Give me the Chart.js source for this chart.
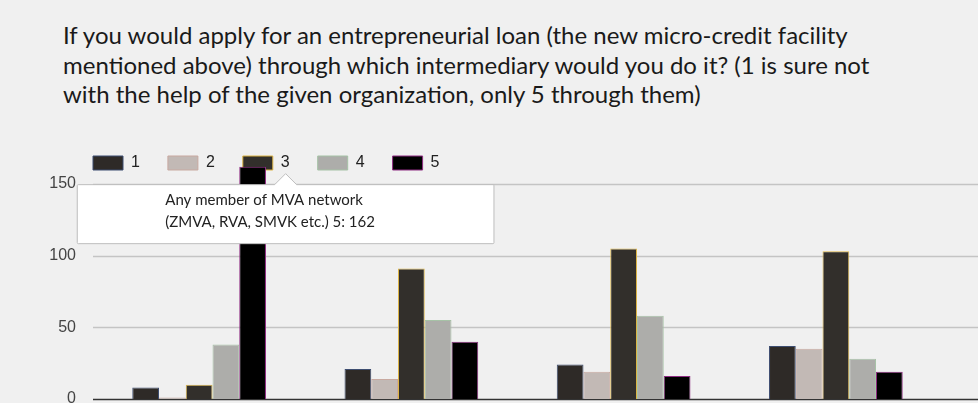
<!DOCTYPE html>
<html lang="en">
<head>
    <meta charset="UTF-8">
    <title>Entrepreneurial loan intermediary</title>
    <script src="https://cdn.jsdelivr.net/npm/chart.js"></script>
    <style>
        body {
            margin: 0;
            background: #f0f0f0;
            width: 978px;
            height: 403px;
            overflow: hidden;
            position: relative;
        }
        #title {
            position: absolute;
            left: 63px;
            top: 20px;
            font-family: Lato, "Open Sans", sans-serif;
            font-size: 24px;
            line-height: 29.5px;
            color: #1a1a1a;
            white-space: nowrap;
        }
        #chart {
            position: absolute;
            left: 0;
            top: 0;
        }
    </style>
</head>
<body>
    <div id="title">
        If you would apply for an entrepreneurial loan (the new micro-credit facility<br>
        mentioned above) through which intermediary would you do it? (1 is sure not<br>
        with the help of the given organization, only 5 through them)
    </div>
    <canvas id="chart" width="978" height="403"></canvas>

    <script>
        // intermediaries (only the first name is readable in the picture)
        const categories = [
            ['Any member of MVA network', '(ZMVA, RVA, SMVK etc.)'],
            '', '', ''
        ];
        const seriesNames = ['1', '2', '3', '4', '5'];
        const answers1 = [8, 21, 24, 37];
        const answers2 = [1, 14, 19, 35];
        const answers3 = [10, 91, 105, 103];
        const answers4 = [38, 55, 58, 28];
        const answers5 = [162, 40, 16, 19];
        const yTicks = [0, 50, 100, 150];

        const fills = ['#2e2a27', '#c2b9b5', '#322f2b', '#adadaa', '#000000'];
        const edges = ['#3d4d70', '#c8a9a0', '#dcb445', '#a6c2a6', '#8e2c82'];
        const allValues = [answers1, answers2, answers3, answers4, answers5];

        // horizontal lines run across the whole picture, past the last group
        const wideGrid = {
            id: 'wideGrid',
            beforeDraw(chart) {
                // legend starts right above the plot, not at the canvas edge
                const lg = chart.legend;
                lg.left = chart.chartArea.left - lg.options.labels.padding;
            },
            beforeDatasetsDraw(chart) {
                const ctx = chart.ctx;
                const y = chart.scales.y;
                ctx.save();
                yTicks.forEach(v => {
                    const py = Math.round(y.getPixelForValue(v)) + 0.5;
                    ctx.beginPath();
                    ctx.strokeStyle = v === 0 ? '#333333' : '#c4c4c4';
                    ctx.lineWidth = 1.5;
                    ctx.moveTo(chart.chartArea.left, py);
                    ctx.lineTo(chart.width, py);
                    ctx.stroke();
                });
                ctx.restore();
            }
        };

        Chart.Tooltip.positioners.callout = function(items) {
            if (!items.length) return false;
            const el = items[0].element;
            return { x: el.x + 33, y: el.y };
        };

        const chart = new Chart(document.getElementById('chart'), {
            type: 'bar',
            data: {
                labels: categories,
                datasets: seriesNames.map((name, i) => ({
                    label: name,
                    data: allValues[i],
                    backgroundColor: fills[i],
                    borderColor: edges[i],
                    borderWidth: 1,
                    clip: false
                }))
            },
            options: {
                responsive: false,
                animation: false,
                events: [],
                categoryPercentage: 0.63,
                barPercentage: 1.0,
                layout: {
                    padding: { top: 127, left: 0, right: 36, bottom: 4 }
                },
                plugins: {
                    legend: {
                        position: 'top',
                        align: 'start',
                        labels: {
                            boxWidth: 30,
                            boxHeight: 14,
                            padding: 28,
                            color: '#222222',
                            font: { family: 'Liberation Sans, Arial', size: 16 }
                        }
                    },
                    tooltip: {
                        enabled: true,
                        position: 'callout',
                        yAlign: 'top',
                        xAlign: 'center',
                        backgroundColor: '#ffffff',
                        borderColor: '#bdbdbd',
                        borderWidth: 1,
                        cornerRadius: 1,
                        caretSize: 11,
                        caretPadding: 7,
                        displayColors: false,
                        bodyColor: '#222222',
                        bodyFont: { family: 'Lato, Open Sans', size: 15 },
                        bodySpacing: 4,
                        padding: { top: 6, bottom: 13, left: 88, right: 119 },
                        callbacks: {
                            title: () => '',
                            label: (c) => {
                                const cat = c.chart.data.labels[c.dataIndex];
                                const lines = Array.isArray(cat) ? cat.slice() : [cat];
                                lines[lines.length - 1] += ' ' + c.dataset.label + ': ' + c.raw;
                                return lines;
                            }
                        }
                    }
                },
                scales: {
                    x: {
                        display: false
                    },
                    y: {
                        min: 0,
                        max: 152,
                        afterBuildTicks: (s) => { s.ticks = yTicks.map(v => ({ value: v })); },
                        afterFit: (s) => {
                            s.width = 93;
                            // the "0" label may run off the bottom, as in the picture
                            s.paddingTop = 0;
                            s.paddingBottom = 0;
                        },
                        grid: { display: false, drawTicks: false },
                        border: { display: false },
                        ticks: {
                            padding: 17,
                            color: '#444444',
                            font: { family: 'Liberation Sans, Arial', size: 16 }
                        }
                    }
                }
            },
            plugins: [wideGrid]
        });

        chart.tooltip.setActiveElements([{ datasetIndex: 4, index: 0 }], { x: 0, y: 0 });
        chart.update();
    </script>
</body>
</html>
